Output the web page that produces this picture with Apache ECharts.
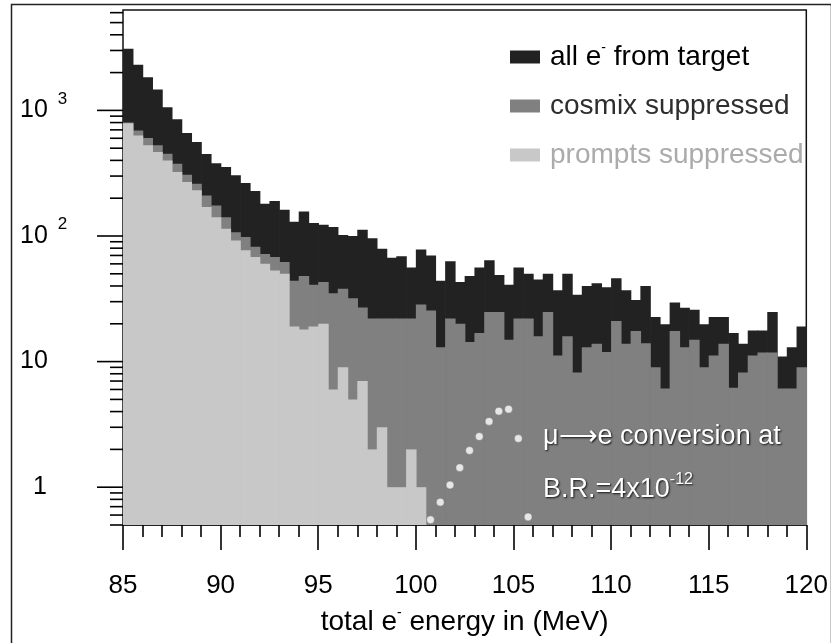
<!DOCTYPE html>
<html><head><meta charset="utf-8">
<script src="https://cdn.jsdelivr.net/npm/echarts@6/dist/echarts.min.js"></script>
<style>html,body{margin:0;padding:0;background:#fff}#c{width:831px;height:643px}</style>
</head><body><div id="c"></div>
<script>
// ---- data ----
const binStart = 85;
const binWidth = 0.5;
const allTarget = [3100,2310,1840,1470,1060,850,660,560,450,380,
  354,304,264,228,181,190,162,130,157,127,
  123,118,102,100,112,96,79,67,69,56,
  78,70,44,63,43,48,56,64,49,41,
  56,50,45,50,37,50,34,40,42,39,
  46,37,31,40,22.6,19.8,29.6,26.8,25.9,19.8,
  22.6,22.6,16.9,13.9,17.7,17.7,24.8,11,13,19];
const cosmixSuppressed = [800,693,602,527,452,376,308,261,210,175,
  141,107,98,82,72,68,62,44,48,41,
  43,35,38,32,27,22,22,22,22,22,
  28.5,25.5,13,22,20,14.3,16.9,24.8,24.8,14.9,
  22,22,15.9,24.8,11.2,15.9,8.2,13,13.9,11.9,
  21,13.9,17.5,14,9,6.1,17.5,13,14.9,9,
  11.2,13.9,6.2,8.2,11.2,11.8,11.8,6.1,6.1,9];
const promptsSuppressed = [790,632,527,466,400,323,269,231,170,141,
  114,92,77,68,60,53,50,19,18,19,
  20,6,9,5,7,2,3,1,1,2,
  1,0,0,0,0,0,0,0,0,0,
  0,0,0,0,0,0,0,0,0,0,
  0,0,0,0,0,0,0,0,0,0,
  0,0,0,0,0,0,0,0,0,0];
const signalEnergy = [100.75,101.25,101.75,102.25,102.75,103.25,103.75,104.25,104.75,105.25,105.75];
const signalCounts = [0.55,0.76,1.04,1.43,1.96,2.53,3.34,4.03,4.18,2.44,0.58];
const yMajorTicks = [1,10,100,1000];
const yMinorTicks = [0.5,0.6,0.7,0.8,0.9,2,3,4,5,6,7,8,9,20,30,40,50,60,70,80,90,
  200,300,400,500,600,700,800,900,2000,3000,4000,5000,6000];
const seriesNames = ['all e- from target','cosmix suppressed','prompts suppressed'];

const yMin = 0.5, yMax = 6300, xMin = 85, xMax = 120;
const FONT = '"Liberation Sans", Arial, Helvetica, sans-serif';
const colors = ['#222222','#808080','#c8c8c8'];

function histSeries(name, values, color, z) {
  return {
    type: 'custom', name: name, z: z, clip: true,
    coordinateSystem: 'cartesian2d',
    itemStyle: {color: color},
    data: values.map((v, i) => [binStart + i*binWidth, binStart + (i+1)*binWidth, v]),
    encode: {x: [0,1], y: 2},
    renderItem: function (params, api) {
      const v = api.value(2);
      if (!(v > 0)) return null;
      const p0 = api.coord([api.value(0), v]);
      const p1 = api.coord([api.value(1), yMin]);
      return {type: 'rect', shape: {x: p0[0], y: p0[1], width: p1[0]-p0[0]+0.7, height: p1[1]-p0[1]},
        style: {fill: color}};
    }
  };
}
function tickSeries(vals, len) {
  return {
    type: 'custom', clip: false, silent: true, z: 20,
    data: vals.map(v => [xMin, v]),
    encode: {x: 0, y: 1},
    renderItem: function (params, api) {
      const p = api.coord([api.value(0), api.value(1)]);
      return {type: 'line', shape: {x1: p[0]-len, y1: p[1], x2: p[0], y2: p[1]},
        style: {stroke: '#000', lineWidth: 1.6}};
    }
  };
}

const chart = echarts.init(document.getElementById('c'), null, {renderer: 'canvas'});
const legendFmt = function (name) {
  if (name === seriesNames[0]) return '{n|all e}{sup|-}{n| from target}';
  return '{n|' + name + '}';
};
const shadow = {textShadowColor: 'rgba(0,0,0,0.85)', textShadowBlur: 2, textShadowOffsetX: 1, textShadowOffsetY: 1};
chart.setOption({
  animation: false,
  backgroundColor: '#fff',
  textStyle: {fontFamily: FONT},
  grid: {left: 123, right: 21, top: 10, bottom: 118, show: true, borderColor: '#111', borderWidth: 1.5, backgroundColor: 'transparent'},
  legend: {
    orient: 'vertical', left: 505, top: 36, itemWidth: 30, itemHeight: 13, itemGap: 21,
    selectedMode: false, icon: 'rect',
    formatter: legendFmt,
    data: [
      {name: seriesNames[0], textStyle: {color: '#000'}},
      {name: seriesNames[1], textStyle: {color: '#2e2e2e'}},
      {name: seriesNames[2], textStyle: {color: '#ababab'}}
    ],
    textStyle: {fontFamily: FONT, fontSize: 28, padding: [0,0,0,5],
      rich: {n: {fontSize: 28, lineHeight: 32, fontFamily: FONT}, sup: {fontSize: 14, lineHeight: 14, verticalAlign: 'top', fontFamily: FONT}}}
  },
  xAxis: {
    type: 'value', min: xMin, max: xMax, interval: 5,
    name: '{n|total e}{sup|-}{n| energy in (MeV)}', nameLocation: 'middle', nameGap: 81,
    nameTextStyle: {color: '#000', rich: {n: {fontSize: 28, lineHeight: 32, fontFamily: FONT, color: '#000'}, sup: {fontSize: 14, lineHeight: 14, verticalAlign: 'top', fontFamily: FONT, color: '#000'}}},
    axisLine: {show: true, onZero: false, lineStyle: {color: '#222', width: 1}},
    axisTick: {show: true, length: 25, lineStyle: {color: '#000', width: 1.6}},
    minorTick: {show: true, splitNumber: 5, length: 12, lineStyle: {color: '#000', width: 1.6}},
    axisLabel: {fontSize: 26, color: '#000', margin: 48, fontFamily: FONT},
    splitLine: {show: false}
  },
  yAxis: {
    type: 'log', logBase: 10, min: yMin, max: yMax,
    axisLine: {show: false}, axisTick: {show: false}, splitLine: {show: false},
    axisLabel: {
      align: 'left', margin: 103, color: '#000', fontFamily: FONT,
      formatter: function (v) {
        const e = Math.log10(v), r = Math.round(e);
        if (Math.abs(e - r) > 1e-6) return '';
        if (r === 0) return '{one|1}';
        if (r === 1) return '{n|10}';
        if (r === 2 || r === 3) return '{n|10}{sup|' + r + '}';
        return '';
      },
      rich: {
        n: {fontSize: 25, lineHeight: 40, fontFamily: FONT, color: '#000'},
        one: {fontSize: 25, lineHeight: 40, fontFamily: FONT, color: '#000', padding: [0,0,0,13]},
        sup: {fontSize: 17, lineHeight: 17, verticalAlign: 'top', fontFamily: FONT, color: '#000', padding: [0,0,0,10]}
      }
    }
  },
  series: [
    histSeries(seriesNames[0], allTarget, colors[0], 2),
    histSeries(seriesNames[1], cosmixSuppressed, colors[1], 3),
    histSeries(seriesNames[2], promptsSuppressed, colors[2], 4),
    {
      type: 'scatter', z: 10, clip: true, silent: true,
      data: signalEnergy.map((x, i) => [x, signalCounts[i]]),
      symbol: 'circle', symbolSize: 8,
      itemStyle: {color: '#ffffff', borderColor: '#555', borderWidth: 0.5}
    },
    tickSeries(yMajorTicks, 26),
    tickSeries(yMinorTicks, 13)
  ],
  graphic: [
    {type: 'rect', left: 9, top: 2, silent: true, z: 0,
      shape: {x: 0, y: 0, width: 820, height: 660},
      style: {fill: 'none', stroke: '#222', lineWidth: 1.5}},
    {type: 'text', left: 543, top: 423, z: 50, silent: true,
      style: Object.assign({text: 'μ⟶e conversion at', fill: '#fff', font: '27px ' + FONT}, shadow)},
    {type: 'text', left: 543, top: 472, z: 50, silent: true,
      style: Object.assign({text: '{n|B.R.=4x10}{sup|-12}', fill: '#fff',
        rich: {n: Object.assign({fontSize: 27, lineHeight: 36, fontFamily: FONT, fill: '#fff'}, shadow),
               sup: Object.assign({fontSize: 16, lineHeight: 16, verticalAlign: 'top', fontFamily: FONT, fill: '#fff'}, shadow)}}, shadow)}
  ]
});
</script>
</body></html>
